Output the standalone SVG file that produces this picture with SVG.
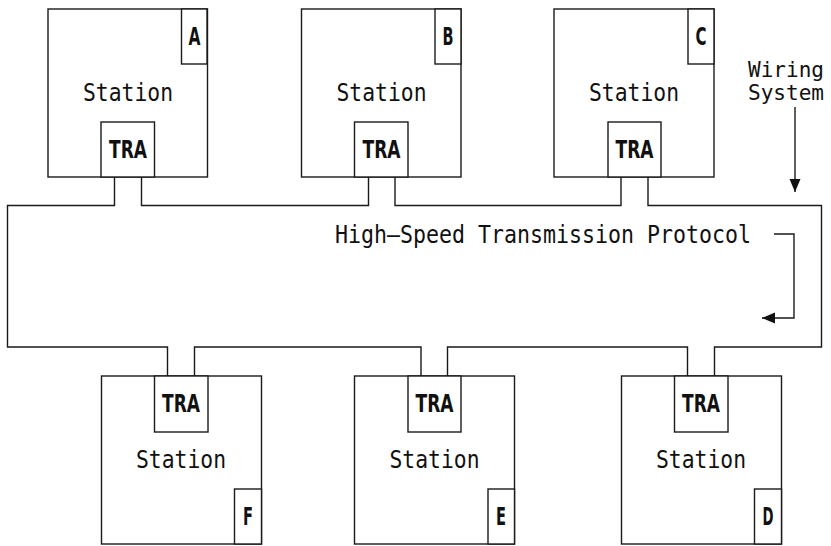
<svg xmlns="http://www.w3.org/2000/svg" width="831" height="546" viewBox="0 0 831 546">
<style>
.box{fill:#fff;stroke:#1a1a1a;stroke-width:1.4}
.ln{fill:none;stroke:#1a1a1a;stroke-width:1.4}
.mono{font-family:"DejaVu Sans Mono","Liberation Mono",monospace;font-size:24px;fill:#111}
.sm{font-size:21px}
.tra{font-family:"DejaVu Sans","Liberation Sans",sans-serif;font-weight:bold;font-size:25px;fill:#111;text-anchor:middle}
.lt{font-family:"DejaVu Sans","Liberation Sans",sans-serif;font-weight:bold;font-size:24px;fill:#111;text-anchor:middle}
.mid{text-anchor:middle}
</style>
<defs>
<marker id="ah" markerUnits="userSpaceOnUse" markerWidth="14" markerHeight="12" refX="13" refY="5.5" orient="auto">
<path d="M0,0 L13,5.5 L0,11 z" fill="#111"/>
</marker>
</defs>
<g id="connectors">
<path class="ln" d="M114.5,177 V205.5 H7.5 V347 H167.5 V376"/>
<path class="ln" d="M141.5,177 V205.5 H368.5 V177"/>
<path class="ln" d="M395,177 V205.5 H621 V177"/>
<path class="ln" d="M648,177 V205.5 H821.5 V347 H714.5 V376"/>
<path class="ln" d="M687.5,376 V347 H447.5 V376"/>
<path class="ln" d="M421,376 V347 H194.5 V376"/>
<line class="ln" x1="795" y1="107" x2="795" y2="192" marker-end="url(#ah)"/>
<polyline class="ln" points="774,234 794,234 794,318 762,318" marker-end="url(#ah)"/>
</g>
<g id="stationA">
<rect class="box" x="48" y="9" width="159.5" height="168"/>
<rect class="box" x="181.5" y="9" width="25.5" height="55"/>
<text class="lt" x="194.5" y="45" textLength="12" lengthAdjust="spacingAndGlyphs">A</text>
<text class="mono mid" x="128" y="101" textLength="90" lengthAdjust="spacingAndGlyphs">Station</text>
<rect class="box" x="101" y="122" width="53.5" height="55"/>
<text class="tra" x="128" y="158" textLength="38" lengthAdjust="spacingAndGlyphs">TRA</text>
</g>
<g id="stationB">
<rect class="box" x="301.5" y="9" width="159.5" height="168"/>
<rect class="box" x="435" y="9" width="26" height="55"/>
<text class="lt" x="448" y="45" textLength="11" lengthAdjust="spacingAndGlyphs">B</text>
<text class="mono mid" x="381.5" y="101" textLength="90" lengthAdjust="spacingAndGlyphs">Station</text>
<rect class="box" x="354.5" y="122" width="53.5" height="55"/>
<text class="tra" x="381.5" y="158" textLength="38" lengthAdjust="spacingAndGlyphs">TRA</text>
</g>
<g id="stationC">
<rect class="box" x="554" y="9" width="160" height="168"/>
<rect class="box" x="688" y="9" width="26" height="55"/>
<text class="lt" x="701" y="45" textLength="11" lengthAdjust="spacingAndGlyphs">C</text>
<text class="mono mid" x="634" y="101" textLength="90" lengthAdjust="spacingAndGlyphs">Station</text>
<rect class="box" x="608" y="122" width="53" height="55"/>
<text class="tra" x="634.5" y="158" textLength="38" lengthAdjust="spacingAndGlyphs">TRA</text>
</g>
<g id="stationF">
<rect class="box" x="101.5" y="376" width="160" height="168"/>
<rect class="box" x="234.5" y="489" width="27" height="55"/>
<text class="lt" x="248" y="525" textLength="10" lengthAdjust="spacingAndGlyphs">F</text>
<text class="mono mid" x="181" y="468" textLength="90" lengthAdjust="spacingAndGlyphs">Station</text>
<rect class="box" x="154.5" y="376" width="53.5" height="56"/>
<text class="tra" x="181" y="412" textLength="38" lengthAdjust="spacingAndGlyphs">TRA</text>
</g>
<g id="stationE">
<rect class="box" x="354.5" y="376" width="160" height="168"/>
<rect class="box" x="488" y="489" width="26.5" height="55"/>
<text class="lt" x="501" y="525" textLength="10" lengthAdjust="spacingAndGlyphs">E</text>
<text class="mono mid" x="434.5" y="468" textLength="90" lengthAdjust="spacingAndGlyphs">Station</text>
<rect class="box" x="408" y="376" width="53" height="56"/>
<text class="tra" x="434.5" y="412" textLength="38" lengthAdjust="spacingAndGlyphs">TRA</text>
</g>
<g id="stationD">
<rect class="box" x="621.5" y="376" width="160" height="168"/>
<rect class="box" x="754.5" y="489" width="27" height="55"/>
<text class="lt" x="768" y="525" textLength="11" lengthAdjust="spacingAndGlyphs">D</text>
<text class="mono mid" x="701" y="468" textLength="90" lengthAdjust="spacingAndGlyphs">Station</text>
<rect class="box" x="674.5" y="376" width="53.5" height="56"/>
<text class="tra" x="701" y="412" textLength="38" lengthAdjust="spacingAndGlyphs">TRA</text>
</g>
<g id="labels">
<text class="mono sm" x="748" y="77" textLength="76" lengthAdjust="spacingAndGlyphs">Wiring</text>
<text class="mono sm" x="748" y="100" textLength="76" lengthAdjust="spacingAndGlyphs">System</text>
<text class="mono" x="335" y="243" textLength="416" lengthAdjust="spacingAndGlyphs">High—Speed Transmission Protocol</text>
</g>
</svg>
